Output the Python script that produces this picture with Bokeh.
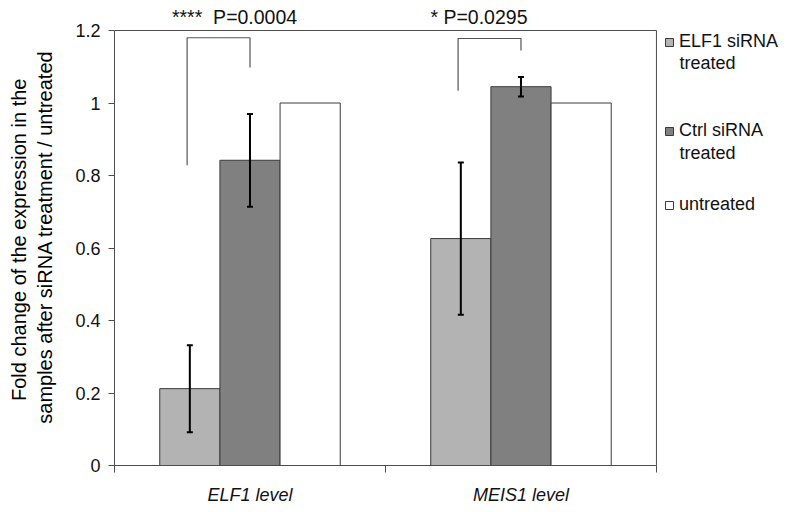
from bokeh.plotting import figure
from bokeh.models import (Range1d, FixedTicker, CustomJSTickFormatter, ColumnDataSource,
                          Whisker, TeeHead, Label, Legend, LegendItem)
from bokeh.embed import file_html
from bokeh.resources import INLINE

# ---- data ----
groups = ["ELF1 level", "MEIS1 level"]
series_names = ["ELF1 siRNA", "Ctrl siRNA", "untreated"]
series_second_lines = ["treated", "treated", ""]
elf1_sirna = [0.212, 0.626]
ctrl_sirna = [0.842, 1.045]
untreated = [1.0, 1.0]
elf1_sirna_err = [0.12, 0.21]
ctrl_sirna_err = [0.128, 0.027]
y_ticks = [0, 0.2, 0.4, 0.6, 0.8, 1.0, 1.2]
p_labels = ["****\u00a0\u00a0P=0.0004", "* P=0.0295"]
# significance brackets: (left leg bottom, top, right leg bottom)
bracket_left_bottom = [0.828, 1.034]
bracket_top = [1.18, 1.178]
bracket_right_bottom = [1.098, 1.145]

colors = ["#b3b3b3", "#808080", "#ffffff"]
FONT = "Liberation Sans"
AXIS_COLOR = "#4d4d4d"
TEXT_COLOR = "#111111"

Y_MAX = 1.2
X_MAX = len(groups)

p = figure(frame_width=678, frame_height=457, min_border_left=114, min_border_top=8,
           min_border_bottom=39, min_border_right=0,
           x_range=Range1d(0, 2.502), y_range=Range1d(0, 1.2607),
           output_backend="svg", toolbar_location=None)
p.outline_line_color = None
p.xgrid.visible = False
p.ygrid.visible = False

bar_w = 0.222
offsets = [-bar_w, 0.0, bar_w]
centers = [i + 0.5 for i in range(len(groups))]
all_series = [elf1_sirna, ctrl_sirna, untreated]
renderers = []
for k, vals in enumerate(all_series):
    xs = [c + offsets[k] for c in centers]
    src = ColumnDataSource(dict(x=xs, top=vals))
    r = p.vbar(x="x", top="top", width=bar_w, source=src, fill_color=colors[k],
               line_color="#3a3a3a", line_width=1)
    renderers.append(r)

# error bars
for k, (vals, errs) in enumerate([(elf1_sirna, elf1_sirna_err), (ctrl_sirna, ctrl_sirna_err)]):
    xs = [c + offsets[k] for c in centers]
    esrc = ColumnDataSource(dict(base=xs, upper=[v + e for v, e in zip(vals, errs)],
                                 lower=[v - e for v, e in zip(vals, errs)]))
    w = Whisker(base="base", upper="upper", lower="lower", source=esrc,
                line_color="black", line_width=2, level="overlay",
                upper_head=TeeHead(size=6, line_width=2, line_color="black"),
                lower_head=TeeHead(size=6, line_width=2, line_color="black"))
    p.add_layout(w)

# plot-area border (top and right)
p.segment(x0=[0, X_MAX], y0=[Y_MAX, 0], x1=[X_MAX, X_MAX], y1=[Y_MAX, Y_MAX],
          line_color=AXIS_COLOR, line_width=1)

# brackets
bx, by = [], []
for i, c in enumerate(centers):
    xl = c + offsets[0] - 0.01
    xr = c + offsets[1]
    bx.append([xl, xl, xr, xr])
    by.append([bracket_left_bottom[i], bracket_top[i], bracket_top[i], bracket_right_bottom[i]])
p.multi_line(bx, by, line_color="#555555", line_width=1.2)

# p-value labels
label_x = [0.443, 1.345]
for i, t in enumerate(p_labels):
    p.add_layout(Label(x=label_x[i], y=1.236, text=t, text_align="center", text_baseline="middle",
                       text_font=FONT, text_font_size="19.5px", text_color=TEXT_COLOR))

# axes
xa = p.xaxis[0]
xa.bounds = (0, X_MAX)
xa.ticker = FixedTicker(ticks=centers, minor_ticks=list(range(len(groups) + 1)))
xa.major_label_overrides = {c: g for c, g in zip(centers, groups)}
xa.major_tick_out = 0
xa.major_tick_in = 0
xa.minor_tick_out = 7
xa.minor_tick_in = 0
xa.minor_tick_line_color = AXIS_COLOR
xa.axis_line_color = AXIS_COLOR
xa.major_label_text_font = FONT
xa.major_label_text_font_style = "italic"
xa.major_label_text_font_size = "18px"
xa.major_label_text_color = TEXT_COLOR
xa.major_label_standoff = 12

ya = p.yaxis[0]
ya.bounds = (0, Y_MAX)
ya.ticker = FixedTicker(ticks=y_ticks, minor_ticks=[])
ya.formatter = CustomJSTickFormatter(code="return String(Number(tick.toFixed(1)));")
ya.major_tick_out = 6
ya.major_tick_in = 0
ya.major_tick_line_color = AXIS_COLOR
ya.axis_line_color = AXIS_COLOR
ya.major_label_text_font = FONT
ya.major_label_text_font_size = "18px"
ya.major_label_text_color = TEXT_COLOR
ya.major_label_standoff = 8
ya.axis_label = "Fold change of the expression  in the\nsamples after siRNA treatment / untreated"
ya.axis_label_text_font = FONT
ya.axis_label_text_font_style = "normal"
ya.axis_label_text_font_size = "20px"
ya.axis_label_text_color = "#000000"
ya.axis_label_standoff = 16

# legend: one legend per entry so each can sit where the reference has it
legend_x = 550
legend_center_y = [423, 334, 260]
second_line_y = [403, 313]
for k in range(3):
    lg = Legend(items=[LegendItem(label=series_names[k], renderers=[renderers[k]])],
                label_text_font=FONT, label_text_font_size="18px", label_text_color=TEXT_COLOR,
                glyph_width=10, glyph_height=10, label_standoff=5, label_height=20,
                padding=0, margin=0, border_line_alpha=0, background_fill_alpha=0,
                location=(legend_x, legend_center_y[k] - 10))
    p.add_layout(lg)
for k in range(2):
    p.add_layout(Label(x=legend_x + 15, y=second_line_y[k], x_units="screen", y_units="screen",
                       text=series_second_lines[k], text_baseline="middle",
                       text_font=FONT, text_font_size="18px", text_color=TEXT_COLOR))

open("out.html", "w").write(file_html(p, INLINE))
